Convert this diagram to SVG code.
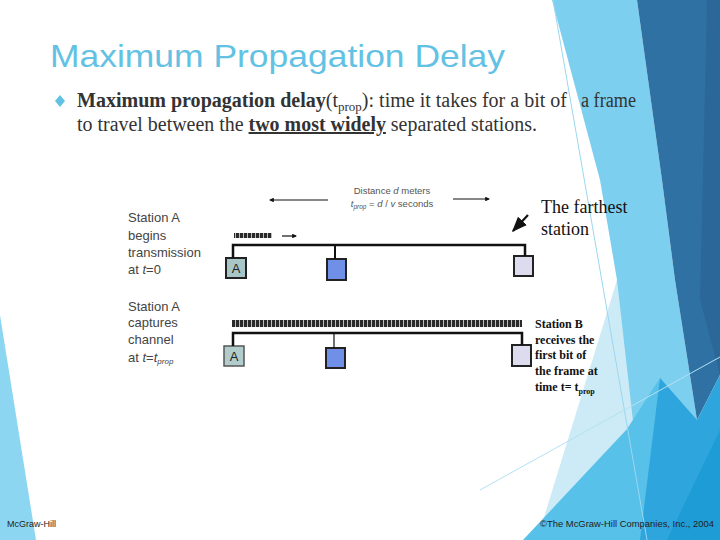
<svg xmlns="http://www.w3.org/2000/svg" width="720" height="540" viewBox="0 0 720 540">
<defs>
<style>
.title{font-family:"Liberation Sans",Arial,sans-serif;font-size:32px;fill:#63c2e4}
.body{font-family:"Liberation Serif","Times New Roman",serif;font-size:20px;fill:#333333}
.lbl{font-family:"Liberation Sans",Arial,sans-serif;font-size:13px;fill:#444444}
.small{font-family:"Liberation Sans",Arial,sans-serif;font-size:9.5px;fill:#555555}
.serif{font-family:"Liberation Serif","Times New Roman",serif;font-size:18px;fill:#111111}
.sb{font-family:"Liberation Serif","Times New Roman",serif;font-size:12px;font-weight:bold;fill:#111111}
.foot{font-family:"Liberation Sans",Arial,sans-serif;font-size:9px;fill:#222222}
.bus{stroke:#111111;stroke-width:2.5;fill:none}
.drop{stroke:#111111;stroke-width:2;fill:none}
.staA{fill:#a9c6c6;stroke:#222222;stroke-width:2}
.staM{fill:#7090e8;stroke:#222222;stroke-width:2}
.staF{fill:#dcdcee;stroke:#222222;stroke-width:2}
.arr{stroke:#111111;stroke-width:1.2;fill:none}
.boxlbl{font-family:"Liberation Sans",Arial,sans-serif;font-size:13px;fill:#222222;text-anchor:middle}
</style>
<pattern id="bits" x="0" y="0" width="4" height="10" patternUnits="userSpaceOnUse">
<rect width="4" height="10" fill="#2a2a2a"/>
<rect x="3" width="1" height="10" fill="#bdbdbd"/>
</pattern>
<marker id="ah" viewBox="0 0 10 10" refX="9" refY="5" markerWidth="7" markerHeight="7" orient="auto-start-reverse">
<path d="M0,1 L10,5 L0,9 z" fill="#111111"/>
</marker>
<marker id="ahb" viewBox="0 0 10 10" refX="8" refY="5" markerWidth="4" markerHeight="4" orient="auto">
<path d="M0,0 L10,5 L0,10 z" fill="#111111"/>
</marker>
</defs>
<rect width="720" height="540" fill="#ffffff"/>
<g id="background">
<polygon points="0,315 36,540 0,540" fill="#8dd6f1"/>
<polygon points="552,0 637,0 662,180 675,280 697,420 660,540 600,540 617,280 600,180" fill="#7ccfee"/>
<polygon points="617,280 634,430 560,540 537,540" fill="#cdebf7"/>
<polygon points="637,0 720,0 720,375 697,420 675,280 662,180" fill="#3071a4"/>
<polygon points="707,0 720,0 720,375 700,300" fill="#2b6899"/>
<polygon points="660,378 697,420 720,375 720,540 630,540" fill="#2ea5dd"/>
<polygon points="523,540 627,429 660,378 640,540" fill="#58c1e9"/>
<polygon points="667,540 720,430 720,540" fill="#1d9cd6"/>
<line x1="553" y1="0" x2="647" y2="540" stroke="#9ad7ef" stroke-width="1"/>
<line x1="480" y1="490" x2="720" y2="357" stroke="#b3e1f3" stroke-width="1"/>
</g>
<g id="heading">
<text class="title" x="50" y="67" textLength="455" lengthAdjust="spacingAndGlyphs">Maximum Propagation Delay</text>
<polygon points="60,95 65,101 60,107 55,101" fill="#63c2e4"/>
<text class="body" x="77" y="107" textLength="490" lengthAdjust="spacingAndGlyphs"><tspan font-weight="bold">Maximum propagation delay</tspan>(t<tspan font-size="13" dy="4">prop</tspan><tspan dy="-4">): time it takes for a bit of</tspan></text>
<text class="body" x="581" y="107" textLength="55" lengthAdjust="spacingAndGlyphs">a frame</text>
<text class="body" x="77" y="131" textLength="460" lengthAdjust="spacingAndGlyphs">to travel between the <tspan font-weight="bold" text-decoration="underline">two most widely</tspan> separated stations.</text>
</g>
<g id="distance-label">
<text class="small" x="392" y="194" text-anchor="middle">Distance <tspan font-style="italic">d</tspan> meters</text>
<text class="small" x="392" y="207" text-anchor="middle"><tspan font-style="italic">t</tspan><tspan font-size="6.5" dy="2" font-style="italic">prop</tspan><tspan dy="-2"> = </tspan><tspan font-style="italic">d</tspan> / <tspan font-style="italic">v</tspan> seconds</text>
</g>
<g id="label-t0">
<text class="lbl" x="128" y="222">Station A</text>
<text class="lbl" x="128" y="240">begins</text>
<text class="lbl" x="128" y="257">transmission</text>
<text class="lbl" x="128" y="274">at <tspan font-style="italic">t</tspan>=0</text>
</g>
<g id="label-tprop">
<text class="lbl" x="128" y="311">Station A</text>
<text class="lbl" x="128" y="327">captures</text>
<text class="lbl" x="128" y="344">channel</text>
<text class="lbl" x="128" y="362">at <tspan font-style="italic">t</tspan>=<tspan font-style="italic">t</tspan><tspan font-size="8" dy="2" font-style="italic">prop</tspan></text>
</g>
<g id="frame-start">
<rect x="234" y="233" width="38" height="5" fill="url(#bits)"/>
</g>
<g id="frame-full">
<rect x="232" y="320" width="290" height="7" fill="url(#bits)"/>
</g>
<g id="stationA-1">
<rect class="staA" x="226" y="258" width="20" height="20"/>
<text class="boxlbl" x="236" y="273">A</text>
</g>
<g id="station-mid-1">
<rect class="staM" x="327" y="259" width="19" height="21"/>
</g>
<g id="station-far-1">
<rect class="staF" x="514" y="256" width="19" height="20"/>
</g>
<g id="stationA-2">
<rect x="224" y="346" width="20" height="20" fill="#b2cccc" stroke="#555555" stroke-width="1.5"/>
<text class="boxlbl" x="234" y="361">A</text>
</g>
<g id="station-mid-2">
<rect class="staM" x="326" y="348" width="19" height="20"/>
</g>
<g id="station-far-2">
<rect class="staF" x="512" y="345" width="19" height="21"/>
</g>
<g id="farthest-label">
<text class="serif" x="541" y="213">The farthest</text>
<text class="serif" x="541" y="235">station</text>
</g>
<g id="stationB-label">
<text class="sb" x="535" y="328">Station B</text>
<text class="sb" x="535" y="344">receives the</text>
<text class="sb" x="535" y="359">first bit of</text>
<text class="sb" x="535" y="375">the frame at</text>
<text class="sb" x="535" y="391">time t= t<tspan font-size="8" dy="3">prop</tspan></text>
</g>
<g id="connectors">
<polyline class="bus" points="233,258 233,245 525,245 525,256"/>
<line class="drop" x1="335" y1="245" x2="335" y2="259"/>
<polyline class="bus" points="233,346 233,333 522,333 522,345"/>
<line x1="334" y1="333" x2="334" y2="348" stroke="#111111" stroke-width="1.2"/>
<line class="arr" x1="328" y1="200" x2="270" y2="200" marker-end="url(#ahb)"/>
<line class="arr" x1="453" y1="199" x2="489" y2="199" marker-end="url(#ahb)"/>
<line class="arr" x1="282" y1="236" x2="296" y2="236" marker-end="url(#ahb)"/>
<line x1="528" y1="215" x2="513" y2="231" stroke="#111111" stroke-width="2.2" marker-end="url(#ah)"/>
</g>
<g id="footer">
<text class="foot" x="7" y="527">McGraw-Hill</text>
<text class="foot" x="540" y="527" textLength="174" lengthAdjust="spacingAndGlyphs">©The McGraw-Hill Companies, Inc., 2004</text>
</g>
</svg>
